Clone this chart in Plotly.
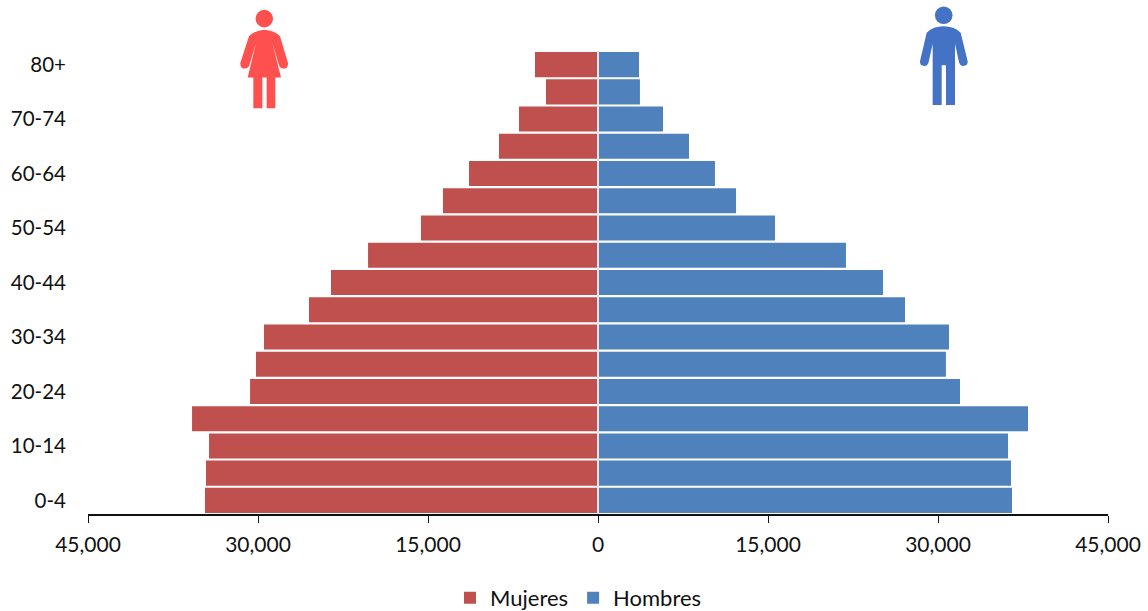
import plotly.graph_objects as go

categories = ["0-4","5-9","10-14","15-19","20-24","25-29","30-34","35-39","40-44","45-49","50-54","55-59","60-64","65-69","70-74","75-79","80+"]
mujeres = [34680,34590,34320,35820,30700,30180,29470,25500,23560,20290,15620,13680,11380,8735,6970,4590,5560]
hombres = [36530,36440,36180,37940,31940,30700,30970,27090,25150,21880,15620,12180,10320,8030,5735,3700,3620]
tick_values = [-45000,-30000,-15000,0,15000,30000,45000]
tick_labels = ["45,000","30,000","15,000","0","15,000","30,000","45,000"]
shown_categories = categories[::2]

W, H = 1148, 611
L, R, T, B = 88, 1108, 50.7, 514

def px(x): return (x - L) / (R - L)
def py(y): return (B - y) / (B - T)

def path(cmds, ox, oy):
    """Icon outline given in zoomed-crop units (3x) mapped to paper coordinates."""
    out = []
    for c in cmds:
        pts = c[1:]
        s = c[0]
        for i in range(0, len(pts), 2):
            s += f" {px(ox + pts[i] / 3):.5f},{py(oy + pts[i + 1] / 3):.5f}"
        out.append(s)
    return " ".join(out) + " Z"

woman = [("M",147,108),("Q",165,90,193,88),("Q",225,90,240,108),("L",264,188),("Q",265,205,250,205),("Q",240,205,236,192),
         ("L",217,128),("L",243,232),("L",226,232),("L",226,324),("L",200,324),("L",200,232),("L",187,232),("L",187,324),
         ("L",160,324),("L",160,232),("L",143,232),("L",168,128),("L",149,192),("Q",145,205,135,205),("Q",120,205,121,188)]
man = [("M",140,97),("Q",160,78,190,78),("Q",222,78,242,97),("L",263,183),("Q",264,197,250,197),("Q",240,197,237,185),
       ("L",225,130),("L",225,314),("L",198,314),("L",198,195),("L",185,195),("L",185,314),("L",158,314),("L",158,130),
       ("L",146,185),("Q",143,197,133,197),("Q",119,197,120,183)]

RED, BLUE = "#FF5050", "#4472C4"
def head(cx, cy, r, col):
    return dict(type="circle", xref="paper", yref="paper", x0=px(cx-r), x1=px(cx+r), y0=py(cy+r), y1=py(cy-r),
                fillcolor=col, line_width=0, layer="above")
shapes = [
    head(264.3, 18.3, 8.8, RED),
    dict(type="path", xref="paper", yref="paper", path=path(woman, 200, 0), fillcolor=RED, line_width=0, layer="above"),
    head(943.7, 15, 8.8, BLUE),
    dict(type="path", xref="paper", yref="paper", path=path(man, 880, 0), fillcolor=BLUE, line_width=0, layer="above"),
    dict(type="line", xref="x", yref="paper", x0=0, x1=0, y0=0, y1=1, line=dict(color="#E4E4E4", width=2), layer="above"),
]

fig = go.Figure()
fig.add_bar(y=categories, x=[-v for v in mujeres], orientation="h", name="Mujeres", marker_color="#C0504D", marker_line_width=0)
fig.add_bar(y=categories, x=hombres, orientation="h", name="Hombres", marker_color="#4F81BD", marker_line_width=0)

font = dict(family="Lato, Carlito, Calibri, sans-serif", size=20, color="#111111")
fig.update_layout(
    width=W, height=H, barmode="overlay", bargap=0.08, paper_bgcolor="white", plot_bgcolor="white",
    margin=dict(l=L, r=W-R, t=T, b=H-B, autoexpand=False), font=font, shapes=shapes,
    legend=dict(orientation="h", xanchor="center", x=px(578.5), yanchor="middle", y=py(598),
                font=dict(family=font["family"], size=22, color="#111111"),
                traceorder="normal", itemwidth=30),
    xaxis=dict(range=[-45000,45000], tickmode="array", tickvals=tick_values, ticktext=tick_labels, showgrid=False,
               ticks="outside", ticklen=7, tickwidth=1.2, tickcolor="#111111", showline=True, linecolor="#111111", linewidth=2,
               zeroline=False, fixedrange=True, ticklabelstandoff=4, tickfont=dict(size=21)),
    yaxis=dict(type="category", categoryorder="array", categoryarray=categories, tickmode="array", tickvals=shown_categories,
               ticktext=shown_categories, showgrid=False, showline=False, zeroline=False, ticks="", ticklabelstandoff=21,
               tickfont=dict(size=20.5), fixedrange=True),
)
fig.write_html("out.html", config={"displayModeBar": False}, post_script="document.body.style.margin='0';document.documentElement.style.overflow='hidden';")
